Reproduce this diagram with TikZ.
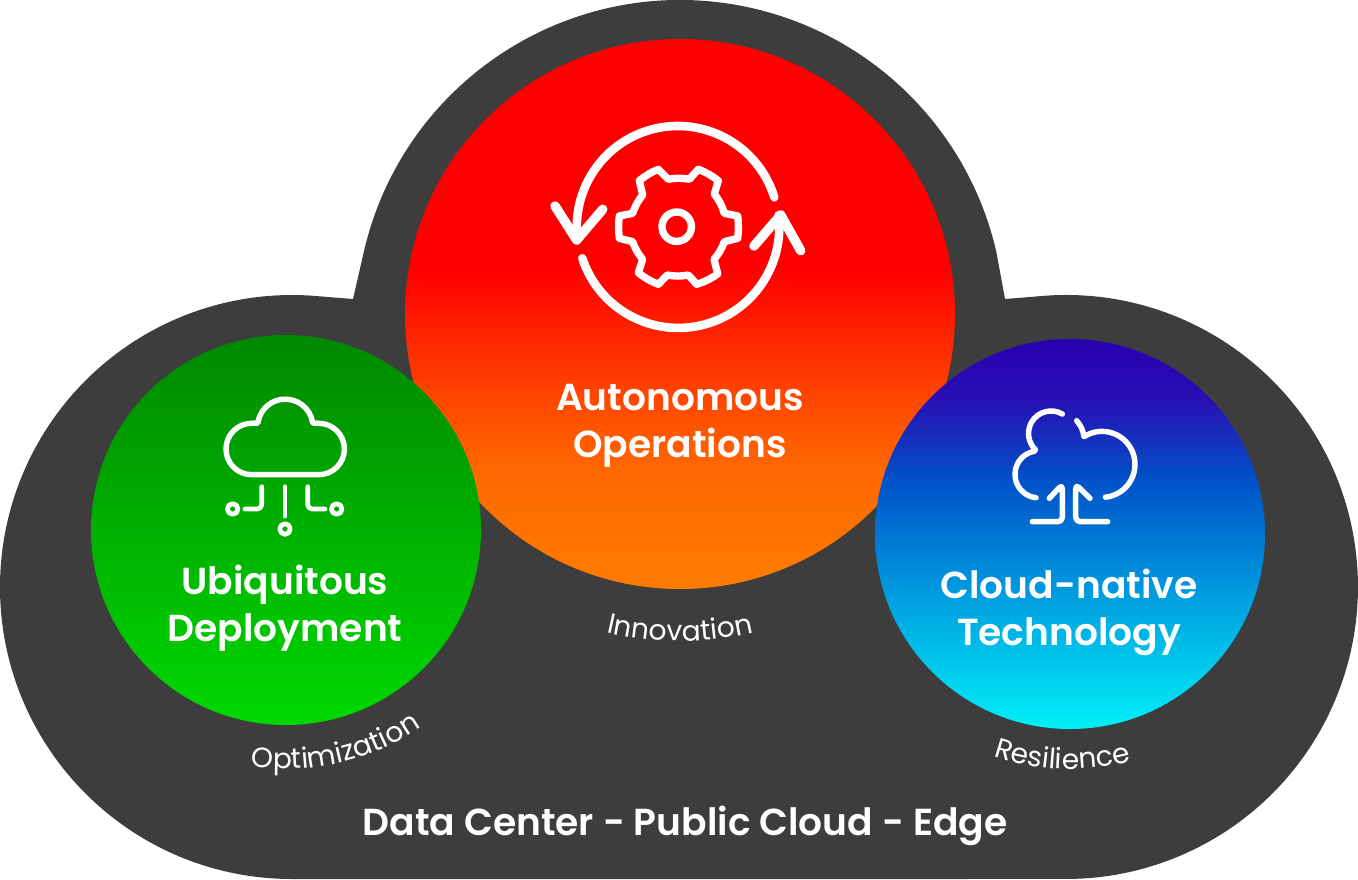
\documentclass[tikz,border=0pt]{standalone}
\usepackage{fontspec}
\setmainfont{Poppins}[UprightFont=* SemiBold]
\newfontfamily\curvefont{Poppins}
\usetikzlibrary{decorations.text}

\definecolor{cloudgray}{HTML}{3D3D3D}
\definecolor{redA}{HTML}{FF0000}
\definecolor{redB}{HTML}{FF4800}
\definecolor{redC}{HTML}{FF6800}
\definecolor{redD}{HTML}{FF7C00}
\definecolor{greenA}{HTML}{008800}
\definecolor{greenB}{HTML}{00D800}
\definecolor{blueA}{HTML}{2800B0}
\definecolor{blueE}{HTML}{2810B4}
\definecolor{blueB}{HTML}{0052C8}
\definecolor{blueC}{HTML}{00A0E0}
\definecolor{blueD}{HTML}{00F0F8}

\pgfdeclareverticalshading{redshade}{100bp}{
  color(0bp)=(redD); color(25bp)=(redD); color(35.8bp)=(redC);
  color(42.2bp)=(redB); color(54bp)=(redA); color(100bp)=(redA)}
\pgfdeclareverticalshading{greenshade}{100bp}{
  color(0bp)=(greenB); color(25bp)=(greenB); color(75bp)=(greenA); color(100bp)=(greenA)}
\pgfdeclareverticalshading{blueshade}{100bp}{
  color(0bp)=(blueD); color(25bp)=(blueD); color(41.5bp)=(blueC);
  color(56.9bp)=(blueB); color(67.2bp)=(blueE); color(75bp)=(blueA); color(100bp)=(blueA)}

\tikzset{
  big title/.style={text=white, font=\fontsize{21.4pt}{27pt}\selectfont, align=center},
  curve label/.style={decorate, decoration={text along path, text align=center, text={|\fontsize{16pt}{18pt}\curvefont\color{white}|#1}}},
  ring line/.style={draw=white, line width=4.9pt, line cap=round, line join=round},
  head line/.style={draw=white, line width=5.4pt, line cap=round, line join=round},
  gear line/.style={draw=white, line width=4.2pt, line join=round},
  thin line/.style={draw=white, line width=3.1pt, line cap=round, line join=round},
  pin line/.style={draw=white, line width=2.7pt, line cap=round, line join=round},
}

\begin{document}
\begin{tikzpicture}[x=0.02cm, y=-0.02cm]
    \useasboundingbox (0,0) rectangle (1358,879);

    % background cloud
    \fill[cloudgray] (292,879) arc[start angle=90, end angle=275.2, radius=292]
        -- (353,299) -- (363.7,252.4)
        arc[start angle=192.84, end angle=347.16, radius=324.5]
        -- (1005,299) -- (1039.5,296.2)
        arc[start angle=264.8, end angle=450, radius=292] -- cycle;

    % circles
    \shade[shading=redshade] (680,314) circle[radius=275];
    \shade[shading=greenshade] (286,530) circle[radius=195];
    \shade[shading=blueshade] (1070,534) circle[radius=195];

    % gear icon
    \draw[ring line] (774.3,197.3) arc[start angle=342.9, end angle=172.7, radius=101];
    \draw[head line] (555,206) -- (576.7,240) -- (602.7,209.3);
    \draw[ring line] (582.3,258.3) arc[start angle=161.9, end angle=-6.7, radius=101];
    \draw[head line] (754,246) -- (780.7,215) -- (800.7,250.7);
    \draw[gear line] (668.3,179.3) to[bend left=10] (689.3,179.3) -- (698.3,169.3)
        to[bend left=8] (718.3,180.7) -- (714.3,194) to[bend left=10] (724.3,213.3)
        -- (737.7,216) to[bend left=6] (737.7,238.3) -- (724.3,241.7)
        to[bend left=10] (714,259.3) -- (717.7,274) to[bend left=8] (696.7,284.3)
        -- (688.3,275) to[bend left=10] (667.3,275) -- (658.3,284.3)
        to[bend left=8] (638.3,272.7) -- (642.7,259.3) to[bend left=10] (632.7,241.7)
        -- (619.3,238.3) to[bend left=6] (619.3,216) -- (632.7,213.3)
        to[bend left=10] (642.7,195) -- (639.3,180.7) to[bend left=8] (658.3,169.3) -- cycle;
    \draw[gear line] (676.7,226.7) circle[radius=14.7];

    % deployment icon
    \draw[thin line] (251.7,474.7) -- (318.7,474.7)
        arc[start angle=90, end angle=-90, radius=25.7] -- (312.7,423)
        arc[start angle=352, end angle=188, radius=27.7] -- (251.7,423.3)
        arc[start angle=270, end angle=90, radius=25.7] -- cycle;
    \draw[pin line] (285,486.7) -- (285,516);
    \draw[pin line] (285,529) circle[radius=5.3];
    \draw[pin line, rounded corners=2.5pt] (261.7,486.7) -- (261.7,509) -- (245,509);
    \draw[pin line] (232.7,509) circle[radius=5.3];
    \draw[pin line, rounded corners=2.5pt] (307.7,486.7) -- (307.7,509) -- (325,509);
    \draw[pin line] (336.7,509) circle[radius=5.3];

    % upload icon
    \draw[thin line] (1062.3,414) arc[start angle=300, end angle=134, radius=22.5]
        -- (1034.4,451.2) arc[start angle=260, end angle=96, radius=23.5];
    \draw[thin line] (1076.7,420.7) to[bend left=15] (1084,436.7)
        arc[start angle=237, end angle=444, radius=33];
    \draw[thin line, rounded corners=2.5pt] (1049.3,498.3) -- (1062.3,484.3) -- (1062.3,521.7) -- (1032.3,521.7);
    \draw[thin line, rounded corners=2.5pt] (1090,498.3) -- (1075.7,484.3) -- (1075.7,521.7) -- (1107.7,521.7);

    % titles
    \node[big title] (autonomous) at (680,426) {Autonomous\\Operations};
    \node[big title] (ubiquitous) at (285,608) {Ubiquitous\\Deployment};
    \node[big title] (cloudnative) at (1069,612.5) {Cloud-native\\Technology};
    \node[big title] (footer) at (685,826) {Data Center - Public Cloud - Edge};

    % curved labels
    \path[curve label=Innovation] (680,314) ++(107:327) arc[start angle=107, end angle=73, radius=327];
    \path[curve label=Optimization] (286,530) ++(100:239) arc[start angle=100, end angle=54, radius=239];
    \path[curve label=Resilience] (1070,534) ++(111:235) arc[start angle=111, end angle=73, radius=235];
\end{tikzpicture}
\end{document}
